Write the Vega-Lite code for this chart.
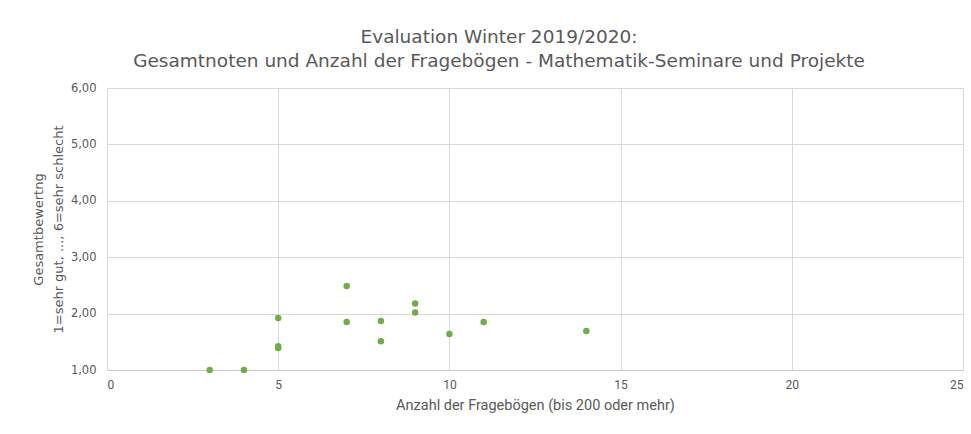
{
  "$schema": "https://vega.github.io/schema/vega-lite/v6.json",
  "width": 856,
  "height": 282,
  "autosize": "none",
  "padding": {"left": 107, "top": 88, "right": 8, "bottom": 64},
  "background": "white",
  "config": {"view": {"stroke": null}},
  "title": {
    "text": ["Evaluation Winter 2019/2020:", "Gesamtnoten und Anzahl der Fragebögen - Mathematik-Seminare und Projekte"],
    "anchor": "middle",
    "font": "DejaVu Sans",
    "fontSize": 18.5,
    "fontWeight": "normal",
    "color": "#595959",
    "lineHeight": 23.5,
    "offset": 12,
    "dx": -36
  },
  "data": {
    "values": [
      {"fragebogen": 3, "note": 1.00},
      {"fragebogen": 4, "note": 1.00},
      {"fragebogen": 5, "note": 1.92},
      {"fragebogen": 5, "note": 1.42},
      {"fragebogen": 5, "note": 1.39},
      {"fragebogen": 7, "note": 2.49},
      {"fragebogen": 7, "note": 1.85},
      {"fragebogen": 8, "note": 1.87},
      {"fragebogen": 8, "note": 1.51},
      {"fragebogen": 9, "note": 2.18},
      {"fragebogen": 9, "note": 2.02},
      {"fragebogen": 10, "note": 1.64},
      {"fragebogen": 11, "note": 1.85},
      {"fragebogen": 14, "note": 1.69}
    ]
  },
  "mark": {"type": "point", "filled": true, "size": 42, "opacity": 1, "color": "#70ad47"},
  "encoding": {
    "x": {
      "field": "fragebogen",
      "type": "quantitative",
      "scale": {"domain": [0, 25], "nice": false, "zero": false},
      "axis": {
        "title": "Anzahl der Fragebögen (bis 200 oder mehr)",
        "values": [0, 5, 10, 15, 20, 25],
        "ticks": false,
        "domainColor": "#c8c8c8",
        "gridColor": "#d9d9d9",
        "labelFont": "Liberation Sans Narrow, Roboto",
        "labelFontSize": 12,
        "labelColor": "#595959",
        "labelPadding": 9,
        "titleFont": "Liberation Sans Narrow, Roboto",
        "titleFontSize": 14.5,
        "titleFontWeight": "normal",
        "titleColor": "#595959",
        "titlePadding": 8
      }
    },
    "y": {
      "field": "note",
      "type": "quantitative",
      "scale": {"domain": [1, 6], "nice": false, "zero": false},
      "axis": {
        "title": ["Gesamtbewertng", "1=sehr gut, ..., 6=sehr schlecht"],
        "values": [1, 2, 3, 4, 5, 6],
        "labelExpr": "replace(format(datum.value, '.2f'), '.', ',')",
        "ticks": false,
        "domain": false,
        "gridColor": "#d9d9d9",
        "labelFont": "DejaVu Sans",
        "labelFontSize": 11.5,
        "labelColor": "#595959",
        "labelPadding": 11,
        "titleFont": "DejaVu Sans",
        "titleFontSize": 13,
        "titleFontWeight": "normal",
        "titleColor": "#595959",
        "titleLineHeight": 20,
        "titlePadding": 5
      }
    }
  }
}
